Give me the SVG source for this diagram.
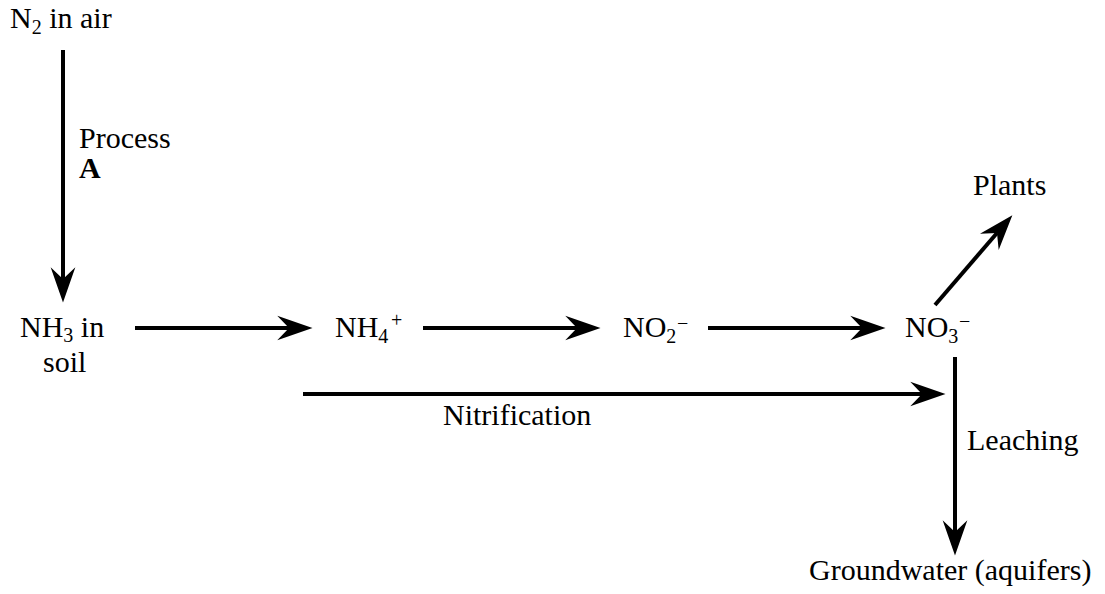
<svg xmlns="http://www.w3.org/2000/svg" width="1105" height="594" viewBox="0 0 1105 594">
<style>
text{font-family:"Liberation Serif","DejaVu Serif",serif;font-size:30px;fill:#000}
.sub{font-size:20px}
.b{font-weight:bold}
.ln{stroke:#000;stroke-width:4;fill:none}
</style>
<defs>
<marker id="ah" markerUnits="userSpaceOnUse" markerWidth="40" markerHeight="30" viewBox="-32 -12 34 24" refX="-20" refY="0" orient="auto">
<path d="M0,0 L-30,-10.5 L-20,0 L-30,10.5 Z" fill="#000"/>
</marker>
</defs>
<rect width="1105" height="594" fill="#fff"/>
<g id="connectors">
<line class="ln" x1="63" y1="50" x2="63" y2="279" marker-end="url(#ah)"/>
<line class="ln" x1="135" y1="328" x2="289" y2="328" marker-end="url(#ah)"/>
<line class="ln" x1="423" y1="328" x2="577" y2="328" marker-end="url(#ah)"/>
<line class="ln" x1="708" y1="328" x2="862" y2="328" marker-end="url(#ah)"/>
<line class="ln" x1="303" y1="394" x2="922" y2="394" marker-end="url(#ah)"/>
<line class="ln" x1="955" y1="357" x2="955" y2="532" marker-end="url(#ah)"/>
<line class="ln" x1="935" y1="305" x2="997" y2="233" marker-end="url(#ah)"/>
</g>
<g id="n2"><text x="10" y="28">N<tspan class="sub" dy="6">2</tspan><tspan dy="-6"> in air</tspan></text></g>
<g id="processA"><text x="79" y="148">Process</text><text x="79" y="178" class="b">A</text></g>
<g id="nh3"><text x="20" y="337">NH<tspan class="sub" dy="5">3</tspan><tspan dy="-5"> in</tspan></text><text x="43" y="372">soil</text></g>
<g id="nh4"><text x="335" y="337">NH<tspan class="sub" dy="6">4</tspan></text><text class="sub" x="391" y="327">+</text></g>
<g id="no2"><text x="623" y="337">NO<tspan class="sub" dy="6">2</tspan></text><text class="sub" x="677" y="330">−</text></g>
<g id="no3"><text x="905" y="337">NO<tspan class="sub" dy="6">3</tspan></text><text class="sub" x="959" y="328">−</text></g>
<g id="plants"><text x="973" y="195">Plants</text></g>
<g id="nitrification"><text x="443" y="425">Nitrification</text></g>
<g id="leaching"><text x="967" y="450">Leaching</text></g>
<g id="groundwater"><text x="809" y="580">Groundwater (aquifers)</text></g>
</svg>
